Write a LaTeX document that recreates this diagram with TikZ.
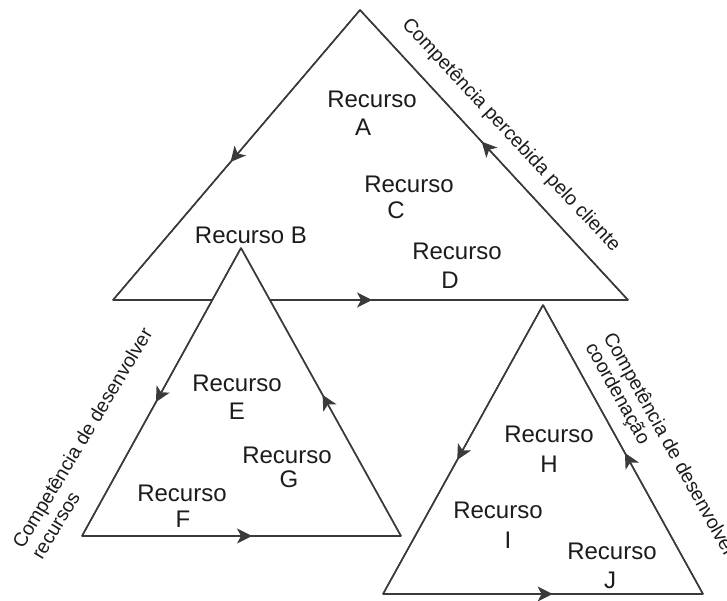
\documentclass[tikz,border=0pt]{standalone}
\usepackage{fontspec}
\setmainfont{Liberation Sans}
\usetikzlibrary{arrows.meta,decorations.markings}
\definecolor{edge}{RGB}{58,58,58}
\definecolor{ink}{RGB}{28,28,28}
\tikzset{
  side/.style={draw=edge, line width=1.5pt, line join=round},
  headtip/.tip={Stealth[length=15pt,width=15pt,inset=4pt]},
  flow/.style={side, postaction={decorate},
    decoration={markings, mark=at position #1 with {\arrow[edge]{headtip}}}},
  res/.style={text=ink, inner sep=0pt, anchor=base, font=\fontsize{24}{28}\selectfont},
  tag/.style={text=ink, inner sep=0pt, anchor=base west, font=\fontsize{19.5}{23}\selectfont},
}
\begin{document}
\begin{tikzpicture}[x=1pt,y=-1pt]
\useasboundingbox (0,0) rectangle (727,600);

% corners of the three triangles
\coordinate (cT) at (360,10);
\coordinate (cL) at (113,300);
\coordinate (cR) at (628,300);
\coordinate (rT) at (241,248);
\coordinate (rL) at (82,536);
\coordinate (rR) at (401,536);
\coordinate (kT) at (543,305);
\coordinate (kL) at (383,594);
\coordinate (kR) at (703,594);

% client triangle
\draw[side, fill=white] (cT) -- (cL) -- (cR) -- cycle;
\draw[flow=0.524] (cT) -- (cL);
\draw[flow=0.503] (cL) -- (cR);
\draw[flow=0.546] (cR) -- (cT);

% resource triangle (drawn over the client triangle's base)
\draw[side, fill=white] (rT) -- (rL) -- (rR) -- cycle;
\draw[flow=0.535] (rT) -- (rL);
\draw[flow=0.533] (rL) -- (rR);
\draw[flow=0.49] (rR) -- (rT);

% coordination triangle
\draw[side, fill=white] (kT) -- (kL) -- (kR) -- cycle;
\draw[flow=0.536] (kT) -- (kL);
\draw[flow=0.53] (kL) -- (kR);
\draw[flow=0.488] (kR) -- (kT);

% side labels
\node[tag, anchor=base, rotate=-47] (tagClient) at (507,139) {Competência percebida pelo cliente};
\node[tag, rotate=59] (tagRes1) at (23,550) {Competência de desenvolver};
\node[tag, rotate=59] (tagRes2) at (42,561) {recursos};
\node[tag, rotate=-61] (tagCoord1) at (603,337) {Competência de desenvolver};
\node[tag, rotate=-61] (tagCoord2) at (585,347) {coordenação};

% resources
\node[res] (recA) at (372,107) {Recurso};
\node[res] (letA) at (363,135) {A};
\node[res] (recB) at (251,243) {Recurso B};
\node[res] (recC) at (409,192) {Recurso};
\node[res] (letC) at (396,218) {C};
\node[res] (recD) at (457,259) {Recurso};
\node[res] (letD) at (450,288) {D};
\node[res] (recE) at (237,391) {Recurso};
\node[res] (letE) at (237,419) {E};
\node[res] (recG) at (287,463) {Recurso};
\node[res] (letG) at (289,487) {G};
\node[res] (recF) at (182,501) {Recurso};
\node[res] (letF) at (183,527) {F};
\node[res] (recH) at (549,442) {Recurso};
\node[res] (letH) at (549,472) {H};
\node[res] (recI) at (498,518) {Recurso};
\node[res] (letI) at (508,548) {I};
\node[res] (recJ) at (612,559) {Recurso};
\node[res] (letJ) at (610,588) {J};
\end{tikzpicture}
\end{document}
